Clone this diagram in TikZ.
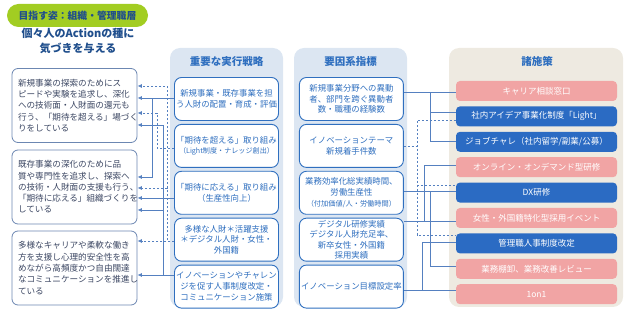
\documentclass[tikz,border=0pt]{standalone}
\usepackage{fontspec}
\setmainfont{Noto Sans CJK JP}
\usepackage{tikz}
\usepackage{xcolor}
\usetikzlibrary{positioning,arrows.meta}

\definecolor{navy}{HTML}{1F4E8C}
\definecolor{lime}{HTML}{A2CD22}
\definecolor{greyblue}{HTML}{6C87B2}
\definecolor{slate}{HTML}{3C4763}
\definecolor{paleblue}{HTML}{DCE6F2}
\definecolor{midblue}{HTML}{2F6FBF}
\definecolor{beige}{HTML}{EEEAE1}
\definecolor{rosem}{HTML}{F1A4A4}
\definecolor{bluem}{HTML}{2B6BC3}
\definecolor{wireblue}{HTML}{5580C0}

\tikzset{
  goalpill/.style={fill=lime, rounded corners=11.5pt, minimum width=141pt, minimum height=23pt,
    inner sep=0pt, text=navy, font=\fontsize{9.8}{11}\selectfont\bfseries},
  actionbox/.style={draw=greyblue, line width=0.8pt, rounded corners=6pt, fill=white,
    minimum width=125pt, minimum height=74pt, text width=113pt, align=left, inner sep=0pt,
    text=slate, font=\fontsize{8.6}{11.3}\selectfont},
  panel/.style={rounded corners=10pt},
  head/.style={text=midblue, font=\fontsize{10.5}{12}\selectfont\bfseries},
  stratbox/.style={draw=midblue, line width=0.9pt, fill=white, rounded corners=7pt,
    minimum width=104pt, minimum height=43pt, text width=104pt, align=center, inner sep=0pt,
    text=midblue, font=\fontsize{8.4}{10.8}\selectfont},
  measure/.style={rounded corners=4pt, minimum width=161pt, minimum height=20pt, inner sep=0pt,
    text=white, font=\fontsize{8.5}{10}\selectfont},
  wire/.style={draw=wireblue, line width=0.8pt},
  link/.style={wire, -{Latex[length=4.5pt,width=4pt]}},
  dashwire/.style={wire, dash pattern=on 2.5pt off 1.5pt},
}

\begin{document}
\begin{tikzpicture}[x=1pt, y=-1pt]
\useasboundingbox (0,0) rectangle (629,312);

% Ziel
\node[goalpill] (goal) at (77.5,15.5) {目指す姿：組織・管理職層};
\node[align=center, text=navy, font=\fontsize{11}{15}\selectfont\bfseries] (title) at (78,40.5)
    {個々人のActionの種に\\気づきを与える};

% Actions
\node[actionbox] (L1) at (74.5,105.5) {新規事業の探索のためにス\\ピードや実験を追求し、深化\\への技術面・人財面の還元も\\行う、「期待を超える」場づく\\りをしている};
\node[actionbox] (L2) at (74.5,187) {既存事業の深化のために品\\質や専門性を追求し、探索へ\\の技術・人財面の支援も行う、\\「期待に応える」組織づくりを\\している};
\node[actionbox] (L3) at (74.5,268) {多様なキャリアや柔軟な働き\\方を支援し心理的安全性を高\\めながら高頻度かつ自由闊達\\なコミュニケーションを推進し\\ている};

% Panels
\fill[panel, paleblue] (170,48) rectangle (283,307);
\fill[panel, paleblue] (294,48) rectangle (407,307);
\fill[panel, beige] (449,48) rectangle (623,307);
\node[head] (hs) at (226.5,62) {重要な実行戦略};
\node[head] (hk) at (350.5,62) {要因系指標};
\node[head] (hm) at (537,61) {諸施策};

% Strategien
\node[stratbox] (s1) at (226.5,99) {新規事業・既存事業を担\\う人財の配置・育成・評価};
\node[stratbox, below=3pt of s1] (s2) {「期待を超える」取り組み\\{\fontsize{7.1}{10}\selectfont（Light制度・ナレッジ創出）}};
\node[stratbox, below=3pt of s2] (s3) {「期待に応える」取り組み\\（生産性向上）};
\node[stratbox, below=3pt of s3] (s4) {多様な人財＊活躍支援\\＊デジタル人財・女性・\\外国籍};
\node[stratbox, below=3pt of s4] (s5) {イノベーションやチャレン\\ジを促す人事制度改定・\\コミュニケーション施策};

% Indikatoren
\node[stratbox, right=20pt of s1] (k1) {新規事業分野への異動\\者、部門を跨ぐ異動者\\数・職種の経験数};
\node[stratbox, right=20pt of s2] (k2) {イノベーションテーマ\\新規着手件数};
\node[stratbox, right=20pt of s3] (k3) {業務効率化総実績時間、\\労働生産性\\{\fontsize{7.2}{10}\selectfont（付加価値/人・労働時間）}};
\node[stratbox, right=20pt of s4, font=\fontsize{8.4}{10.2}\selectfont] (k4) {デジタル研修実績\\デジタル人財充足率、\\新卒女性・外国籍\\採用実績};
\node[stratbox, right=20pt of s5] (k5) {イノベーション目標設定率};

% Massnahmen
\node[measure, fill=rosem] (m1) at (536.5,91) {キャリア相談窓口};
\node[measure, fill=bluem, below=5pt of m1] (m2) {社内アイデア事業化制度「Light」};
\node[measure, fill=bluem, below=5pt of m2] (m3) {ジョブチャレ（社内留学/副業/公募）};
\node[measure, fill=rosem, below=5pt of m3] (m4) {オンライン・オンデマンド型研修};
\node[measure, fill=bluem, below=5pt of m4] (m5) {DX研修};
\node[measure, fill=rosem, below=5pt of m5] (m6) {女性・外国籍特化型採用イベント};
\node[measure, fill=bluem, below=5pt of m6] (m7) {管理職人事制度改定};
\node[measure, fill=rosem, below=5pt of m7] (m8) {業務棚卸、業務改善レビュー};
\node[measure, fill=rosem, below=5pt of m8] (m9) {1on1};

% Strategien -> Actions
\draw[link] (s1.west |- 0,98) -- (L1.east |- 0,98);
\draw[link] (s1.west |- 0,98) -| (152,177) -- (L2.east |- 0,177);
\draw[link, dash pattern=on 2.5pt off 1.5pt] (s2.west |- 0,148) -| (157,113) -- (L1.east |- 0,113);
\draw[link] (s3.west |- 0,198) -- (L2.east |- 0,198);
\draw[link, dash pattern=on 2.5pt off 1.5pt] (s4.west |- 0,241) -- (L3.east |- 0,241);
\draw[link, dash pattern=on 2.5pt off 1.5pt] (s4.west |- 0,241) -| (167,188) -- (L2.east |- 0,188);
\draw[link, dash pattern=on 2.5pt off 1.5pt] (s4.west |- 0,241) -| (167,86) -- (L1.east |- 0,86);
\draw[link] (s5.west |- 0,275) -- (L3.east |- 0,275);
\draw[link] (s5.west |- 0,275) -| (163,210) -- (L2.east |- 0,210);
\draw[link] (s5.west |- 0,275) -| (163,125) -- (L1.east |- 0,125);

% Indikatoren -> Massnahmen
\draw[wire] (k1.east |- 0,92) -- (m1.west |- 0,92);
\draw[wire] (k1.east |- 0,92) -| (430,112) -- (m2.west |- 0,112);
\draw[wire] (k1.east |- 0,92) -| (430,141) -- (m3.west |- 0,141);
\draw[dashwire] (k2.east |- 0,146) -| (417,120) -- (m2.west |- 0,120);
\draw[dashwire] (k2.east |- 0,146) -| (417,185) -- (m5.west |- 0,185);
\draw[dashwire] (k2.east |- 0,146) -| (417,235) -- (m7.west |- 0,235);
\draw[wire] (k3.east |- 0,191) -- (m5.west |- 0,191);
\draw[wire] (k3.east |- 0,191) -| (430,266) -- (m8.west |- 0,266);
\draw[wire] (k4.east |- 0,221) -- (m6.west |- 0,221);
\draw[wire] (k4.east |- 0,221) -| (424,165) -- (m4.west |- 0,165);
\draw[wire] (k5.east |- 0,290) -- (m9.west |- 0,290);
\draw[wire] (k5.east |- 0,290) -| (422,242) -- (m7.west |- 0,242);

\end{tikzpicture}
\end{document}
